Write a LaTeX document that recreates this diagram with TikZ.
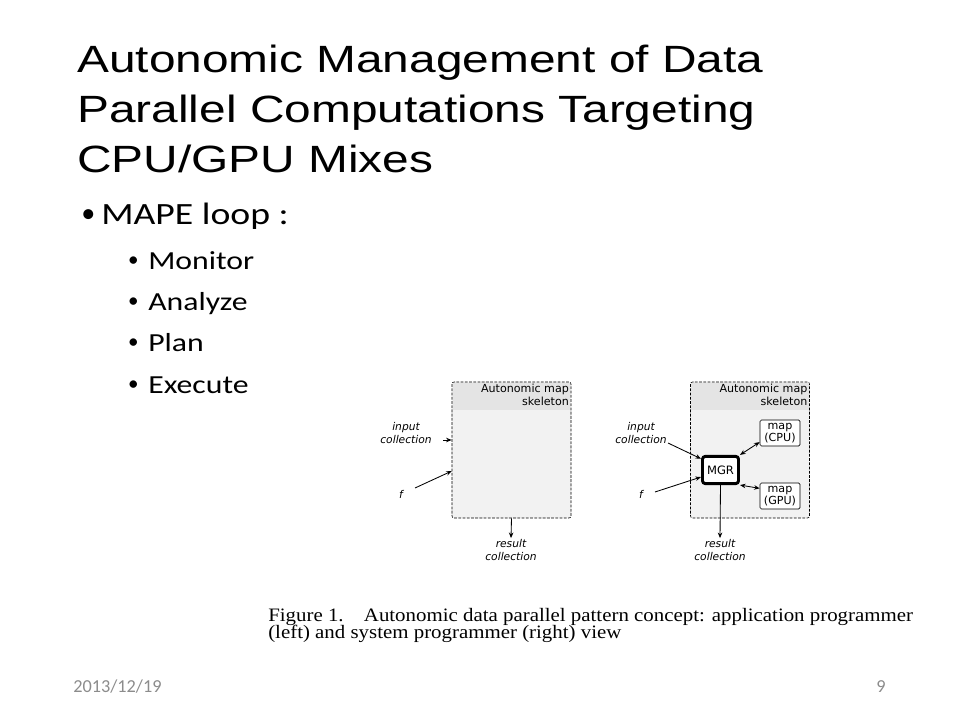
\documentclass[tikz,border=0pt]{standalone}
\usepackage{fontspec}
\setmainfont{Liberation Sans}[FakeStretch=1.26]
\newfontfamily\calibri{Carlito}[FakeStretch=1.22]
\newfontfamily\footfont{Carlito}
\newfontfamily\dejavu{DejaVu Sans}
\newfontfamily\timesfont{Liberation Serif}[FakeStretch=1.1]
\usetikzlibrary{arrows.meta,positioning,calc}

\definecolor{bodygray}{HTML}{F2F2F2}
\definecolor{headgray}{HTML}{E4E4E4}
\definecolor{footgray}{HTML}{8C8C8C}

\tikzset{
  skel/.style={draw, dash pattern=on 2pt off 1pt, rounded corners=1.5pt, fill=bodygray,
    minimum width=2.975cm, minimum height=3.4cm, inner sep=0pt},
  hdr/.style={font=\dejavu\fontsize{7.9}{9.2}\selectfont, align=right, inner sep=1.5pt},
  lbl/.style={font=\dejavu\itshape\fontsize{7.6}{8.6}\selectfont, align=center, inner sep=1pt},
  mapbox/.style={draw, rounded corners=1pt, fill=white, font=\dejavu\fontsize{7.9}{9}\selectfont,
    align=center, minimum width=1cm, minimum height=0.65cm, inner sep=0pt},
  mgrbox/.style={draw, line width=2.1pt, rounded corners=2pt, fill=white, font=\dejavu\fontsize{8.2}{9}\selectfont,
    minimum width=0.9cm, minimum height=0.68cm, inner sep=0pt},
  arr/.style={-{Stealth[length=4pt,width=3.2pt]}, line width=0.6pt},
  darr/.style={{Stealth[length=4pt,width=3.2pt]}-{Stealth[length=4pt,width=3.2pt]}, line width=0.6pt},
  sub/.style={anchor=base west, inner sep=0pt, font=\calibri\fontsize{18.5}{21}\selectfont},
  dot/.style={anchor=base, inner sep=0pt, font=\footfont\fontsize{#1}{#1}\selectfont},
  captxt/.style={anchor=base west, inner sep=0pt, font=\timesfont\fontsize{13.5}{14}\selectfont},
  foot/.style={inner sep=0pt, text=footgray, font=\footfont\fontsize{13}{15}\selectfont}
}

\begin{document}
\begin{tikzpicture}[x=0.025cm, y=-0.025cm]
\useasboundingbox (0,0) rectangle (960,720);

% title and bullets
\node[anchor=north west, inner sep=0pt, align=left, font=\fontsize{27}{35.6}\selectfont] (title) at (77,45)
  {Autonomic Management of Data\\Parallel Computations Targeting\\CPU/GPU Mixes};
\node[dot=20] (bul) at (88.5,223) {•};
\node[anchor=base west, inner sep=0pt, font=\calibri\fontsize{22}{25}\selectfont] (mape) at (101,225) {MAPE loop :};
\foreach \t [count=\i] in {Monitor,Analyze,Plan,Execute}{
  \node[dot=15] (bul\i) at (133.5,225+41.3*\i) {•};
  \node[sub] (item\i) at (148,228+41.3*\i) {\t};
}

% left view
\node[skel] (skelL) at (511.5,450) {};
\fill[headgray] ($(skelL.north west)+(1,1)$) rectangle ($(skelL.north east)+(-1,28)$);
\node[hdr, anchor=north east] (hdrL) at (skelL.north east) {Autonomic map\\skeleton};
\node[lbl] (inL) at (406,433) {input\\collection};
\node[lbl] (fL) at (401,494) {f};
\node[lbl] (resL) at (511,550) {result\\collection};
\coordinate (inLs) at (443,440);
\coordinate (fLs) at (415,488);
\draw[arr] (inLs) -- (inLs -| skelL.west);
\draw[arr] (fLs) -- ([yshift=-15pt]skelL.west);
\draw[arr] (skelL.south) -- (resL.north);

% right view
\node[skel] (skelR) at (750,450) {};
\fill[headgray] ($(skelR.north west)+(1,1)$) rectangle ($(skelR.north east)+(-1,28)$);
\node[hdr, anchor=north east] (hdrR) at (skelR.north east) {Autonomic map\\skeleton};
\node[mgrbox] (mgr) at (720.5,470) {MGR};
\node[mapbox] (cpu) at (780,433) {map\\(CPU)};
\node[mapbox] (gpu) at (780,496) {map\\(GPU)};
\node[lbl] (inR) at (641,433) {input\\collection};
\node[lbl] (fR) at (641,494) {f};
\node[lbl] (resR) at (720,550) {result\\collection};
\coordinate (inRs) at (668,443);
\coordinate (fRs) at (655,492);
\draw[arr] (inRs) -- ([yshift=8pt]mgr.west);
\draw[arr] (fRs) -- ([yshift=-5pt]mgr.west);
\draw[darr] (mgr.north east) -- ([yshift=3pt]cpu.south west);
\draw[darr] (mgr.south east) -- ([yshift=-4pt]gpu.north west);
\draw[arr] (mgr.south) -- (resR.north);

% caption
\node[captxt] (cap1) at (268,621) {Figure 1.\hspace{0.7em} Autonomic data parallel pattern concept: application programmer};
\node[captxt] (cap2) at (268,638) {(left) and system programmer (right) view};

% footer
\node[foot, anchor=base west] (date) at (73,692) {2013/12/19};
\node[foot, anchor=base east] (page) at (886,692) {9};
\end{tikzpicture}
\end{document}
